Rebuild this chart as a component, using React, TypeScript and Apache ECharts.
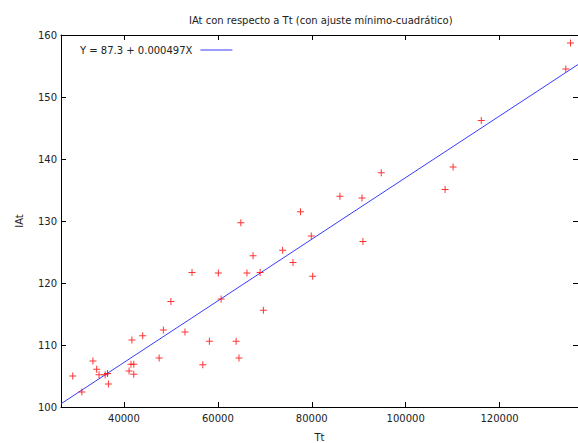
import React, { useEffect, useRef } from "react";
import * as echarts from "echarts";

// Observed pairs (Tt, IAt)
const tt = [
  29100, 31050, 33400, 34200, 34700, 36000, 36500, 36700, 41100, 41500, 42100,
  42100, 41700, 44000, 47500, 48400, 53000, 50000, 54500, 56800, 58200, 60100,
  60700, 63900, 64500, 64900, 66200, 67500, 69000, 69700, 73800, 76000, 77600,
  79900, 80200, 86000, 90700, 90900, 94800, 108400, 110100, 116100, 134100,
  135100,
];
const iat = [
  105.0, 102.4, 107.4, 106.1, 105.2, 105.2, 105.4, 103.7, 105.8, 106.9, 106.9,
  105.3, 110.8, 111.5, 107.9, 112.4, 112.1, 117.0, 121.7, 106.8, 110.6, 121.6,
  117.4, 110.6, 107.9, 129.7, 121.6, 124.4, 121.7, 115.6, 125.3, 123.3, 131.5,
  127.6, 121.1, 134.0, 133.7, 126.7, 137.8, 135.1, 138.7, 146.2, 154.5, 158.7,
];

// Least-squares fit
const intercept = 87.3;
const slope = 0.000497;
const fitLabel = "Y = 87.3 + 0.000497X";

const xRange = [26600, 136700];
const xTicks = [40000, 60000, 80000, 100000, 120000];
const yRange = [100, 160];
const yStep = 10;

const FONT = "DejaVu Sans";
const TXT = "#222";
const AXIS = "#000";

// 7x7 plus sign, 1px strokes
const PLUS = "path://M3,0h1v3h3v1h-3v3h-1v-3h-3v-1h3z";

export default function App() {
  const ref = useRef<HTMLDivElement>(null);

  useEffect(() => {
    if (!ref.current) return;
    const chart = echarts.init(ref.current, null, { renderer: "svg" });

    const points = tt.map((x, i) => [x, iat[i]]);
    const fit = xRange.map((x) => [x, intercept + slope * x]);

    const tickCommon = {
      show: true,
      inside: true,
      length: 5,
      lineStyle: { color: AXIS, width: 1 },
    };

    chart.setOption({
      animation: false,
      backgroundColor: "#fff",
      textStyle: { fontFamily: FONT },
      title: {
        text: "IAt con respecto a Tt (con ajuste mínimo-cuadrático)",
        left: 184,
        top: 10,
        textStyle: {
          fontFamily: FONT,
          fontSize: 10,
          fontWeight: "normal",
          color: TXT,
        },
      },
      legend: {
        data: [{ name: fitLabel, icon: "rect" }],
        left: 75,
        top: 40,
        align: "right",
        itemWidth: 32,
        itemHeight: 1,
        itemGap: 6,
        textStyle: { fontFamily: FONT, fontSize: 10, color: TXT, padding: [0, 3, 0, 0] },
      },
      grid: {
        left: 61,
        top: 35,
        right: 0,
        bottom: 36,
        containLabel: false,
        outerBoundsMode: "none",
      },
      xAxis: [
        {
          type: "value",
          min: xRange[0],
          max: xRange[1],
          name: "Tt",
          nameLocation: "middle",
          nameGap: 25,
          nameTextStyle: { fontFamily: FONT, fontSize: 10, color: TXT },
          axisLine: { show: true, lineStyle: { color: AXIS, width: 1 } },
          axisTick: { ...tickCommon, customValues: xTicks },
          axisLabel: {
            customValues: xTicks,
            formatter: (v: number) => String(v),
            fontFamily: FONT,
            fontSize: 10,
            color: TXT,
            margin: 6,
          },
          splitLine: { show: false },
        },
        {
          type: "value",
          position: "top",
          min: xRange[0],
          max: xRange[1],
          axisLine: { show: true, lineStyle: { color: AXIS, width: 1 } },
          axisTick: { ...tickCommon, customValues: xTicks },
          axisLabel: { show: false },
          splitLine: { show: false },
        },
      ],
      yAxis: [
        {
          type: "value",
          min: yRange[0],
          max: yRange[1],
          interval: yStep,
          name: "IAt",
          nameLocation: "middle",
          nameGap: 37,
          nameRotate: 90,
          nameTextStyle: { fontFamily: FONT, fontSize: 10, color: TXT },
          axisLine: { show: true, lineStyle: { color: AXIS, width: 1 } },
          axisTick: tickCommon,
          axisLabel: { fontFamily: FONT, fontSize: 10, color: TXT, margin: 4 },
          splitLine: { show: false },
        },
        {
          type: "value",
          position: "right",
          min: yRange[0],
          max: yRange[1],
          interval: yStep,
          axisLine: { show: false },
          axisTick: tickCommon,
          axisLabel: { show: false },
          splitLine: { show: false },
        },
      ],
      series: [
        {
          name: "IAt",
          type: "scatter",
          data: points,
          symbol: PLUS,
          symbolSize: 7,
          itemStyle: { color: "#ff0000" },
          z: 3,
        },
        {
          name: fitLabel,
          type: "line",
          data: fit,
          showSymbol: false,
          symbol: "none",
          clip: true,
          lineStyle: { color: "#3a3aff", width: 1 },
          itemStyle: { color: "#3a3aff" },
          z: 2,
        },
      ],
    });

    return () => chart.dispose();
  }, []);

  return (
    <div
      ref={ref}
      style={{ position: "fixed", left: 0, top: 0, width: 578, height: 443 }}
    />
  );
}
